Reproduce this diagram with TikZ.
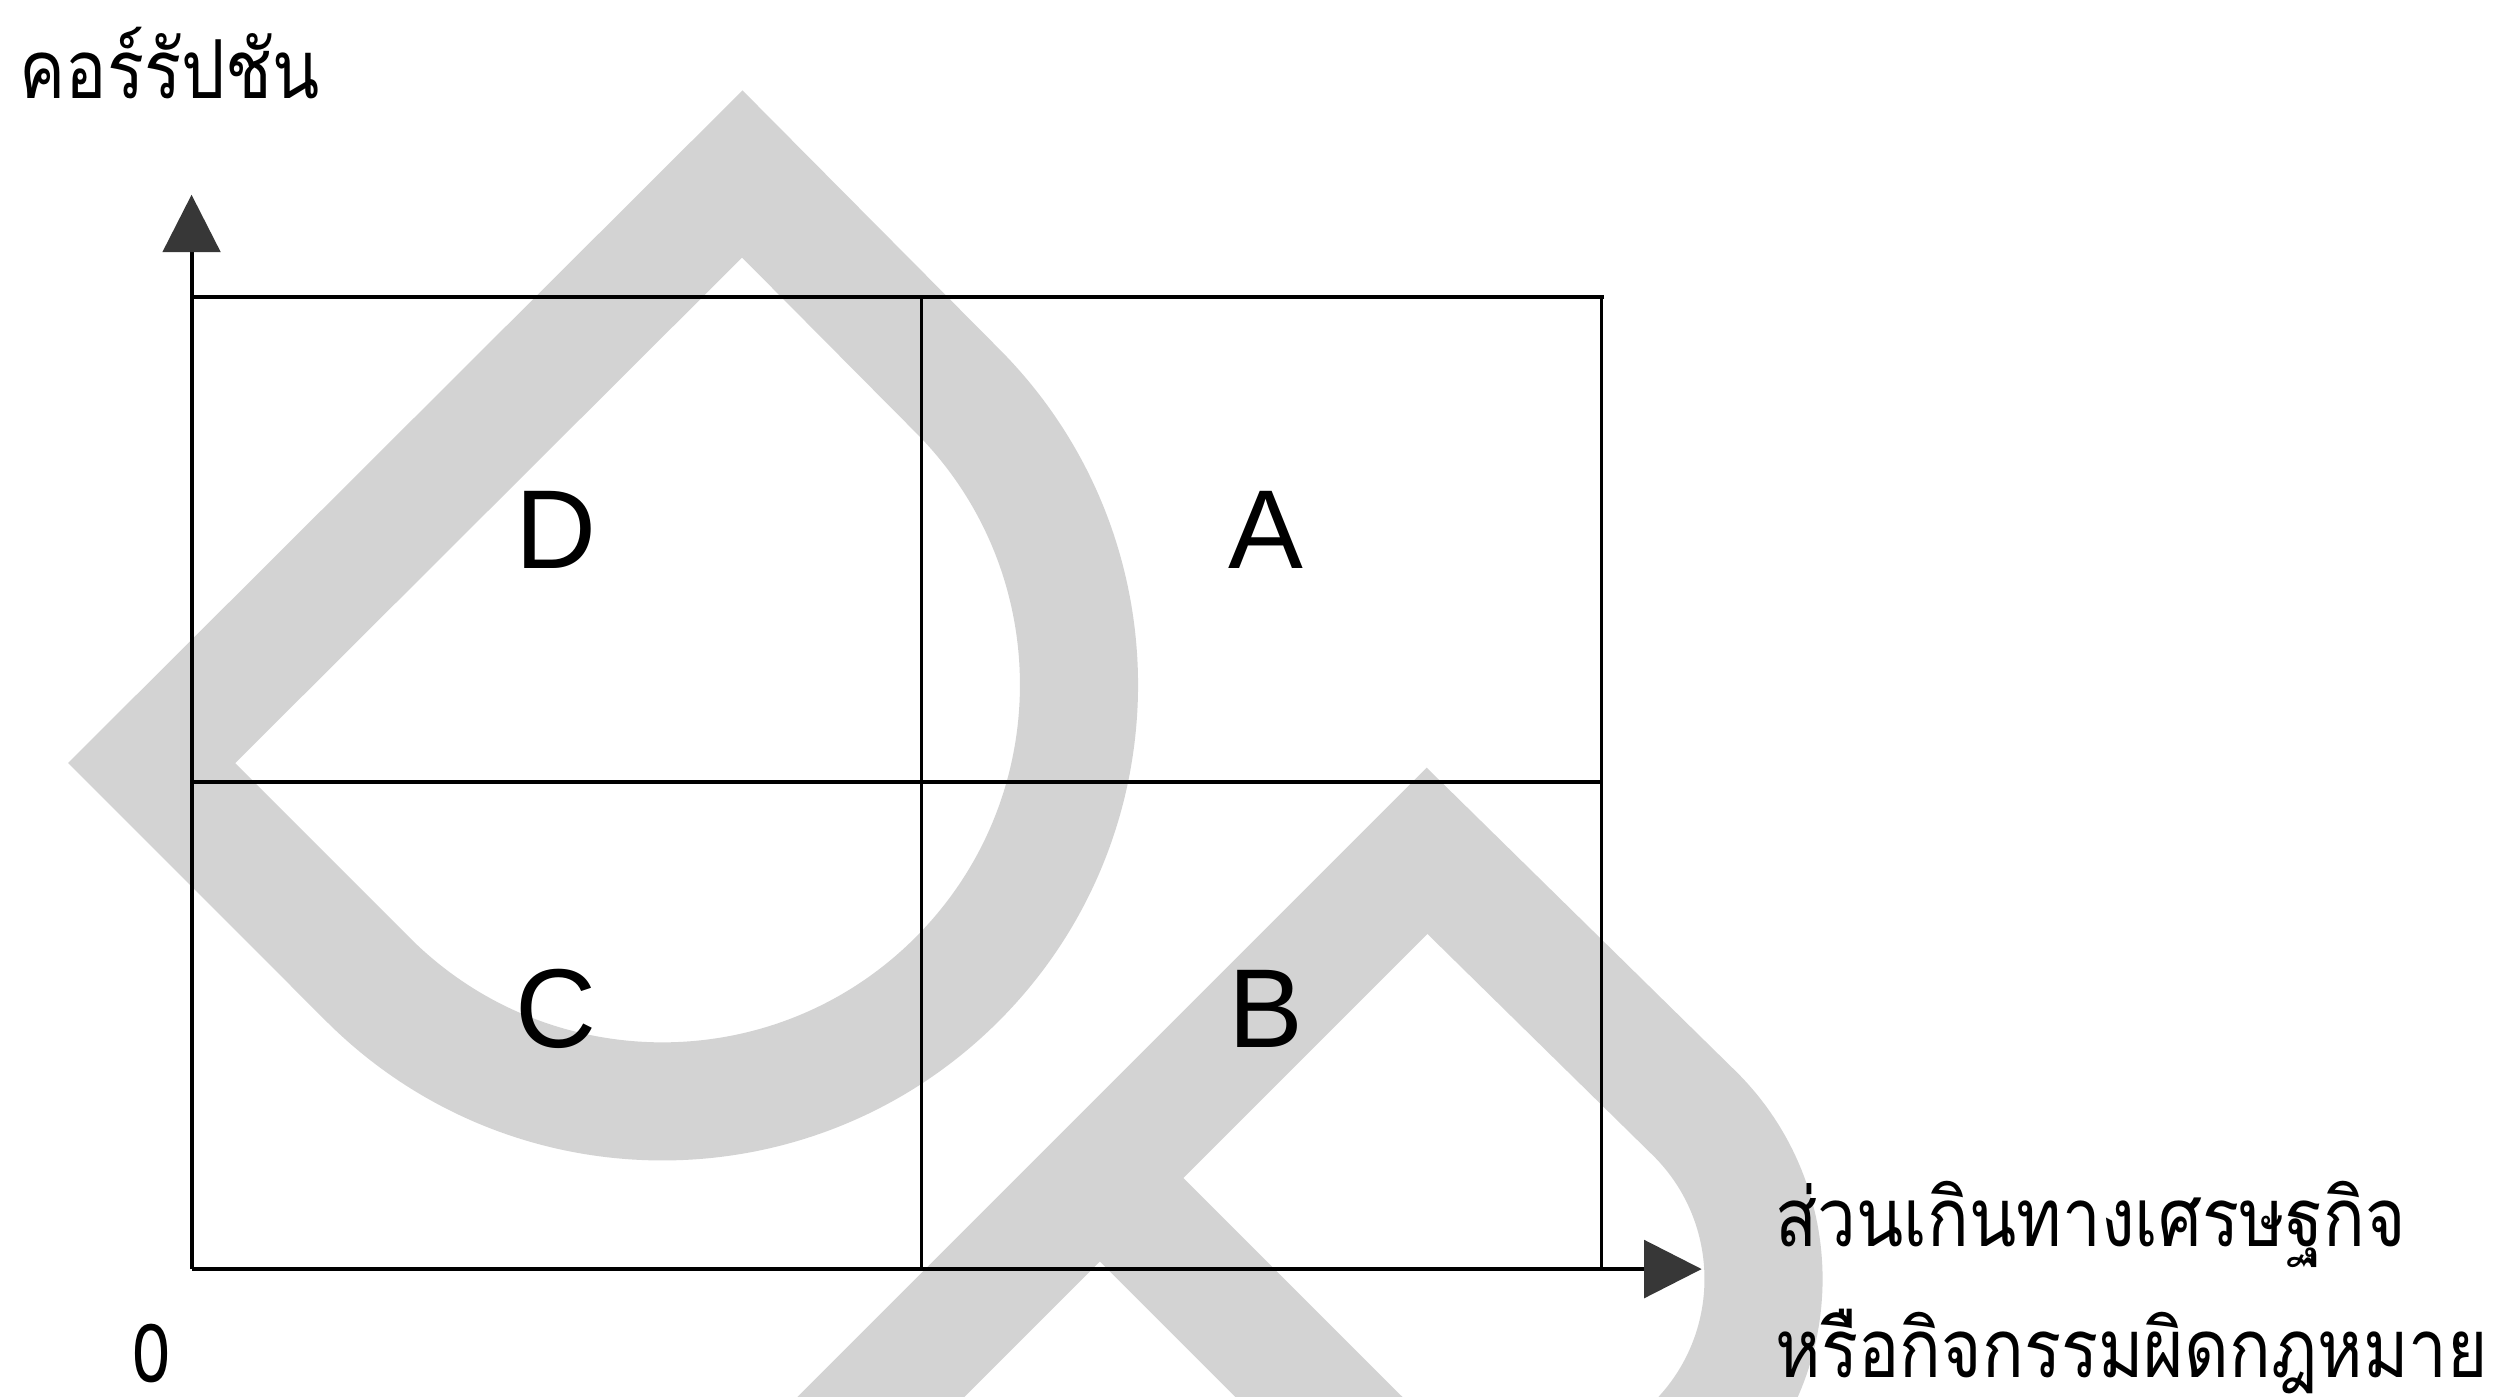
\documentclass[tikz,border=0pt]{standalone}
\usepackage{fontspec}
\setmainfont{Liberation Sans}
\newfontfamily\thaifont[Script=Thai,FakeStretch=0.85]{Loma}
\usetikzlibrary{arrows.meta}
\definecolor{wm}{RGB}{211,211,211}
\definecolor{tipgray}{RGB}{55,55,55}
\tikzset{
  wmstroke/.style={draw=wm, line width=1.48cm, line join=miter},
  axisline/.style={draw=black, line width=1.4pt, -{Triangle[length=0.72cm,width=0.72cm,color=tipgray]}},
  hline/.style={draw=black, line width=1.6pt},
  vline/.style={draw=black, line width=1.1pt},
  quad/.style={inner sep=0pt, font=\fontsize{40}{48}\selectfont},
  thai/.style={inner sep=0pt, font=\thaifont\fontsize{29}{35}\selectfont},
}
\begin{document}
\begin{tikzpicture}[x=0.02cm, y=-0.02cm]
\useasboundingbox (0,0) rectangle (1568,875);
% watermark
\begin{scope}
\clip (0,0) rectangle (1568,875);
\draw[wmstroke] (599.5,244.5) arc[start angle=45, end angle=-135, radius=5.22cm] -- (95,478) -- (465,109) -- cycle;
\draw[wmstroke] (430,997) -- (894,533) -- (1062,698) arc[start angle=45, end angle=-135, radius=2.92cm] -- (689,738);
\end{scope}
% axes
\coordinate (O) at (120,795);
\coordinate (Ytip) at (120,122);
\coordinate (Xtip) at (1066,795);
\draw[axisline] (O) -- (Ytip);
\draw[axisline] (O) -- (Xtip);
% grid
\draw[hline] (120,186) -- (1005,186);
\draw[hline] (120,490) -- (1003,490);
\draw[vline] (577,186) -- (577,795);
\draw[vline] (1003,186) -- (1003,795);
% quadrant labels
\node[quad] (D) at (348,332) {D};
\node[quad] (A) at (793,332) {A};
\node[quad] (C) at (348,632) {C};
\node[quad] (B) at (793,632) {B};
% axis labels
\node[thai, anchor=base west] (ylab) at (12,62) {คอร์รัปชัน};
\node[thai, anchor=base west] (xlab1) at (1112,781) {ส่วนเกินทางเศรษฐกิจ};
\node[thai, anchor=base west] (xlab2) at (1112,863) {หรือกิจกรรมผิดกฎหมาย};
\node[thai, anchor=base] (zero) at (95,866) {0};
\end{tikzpicture}
\end{document}
